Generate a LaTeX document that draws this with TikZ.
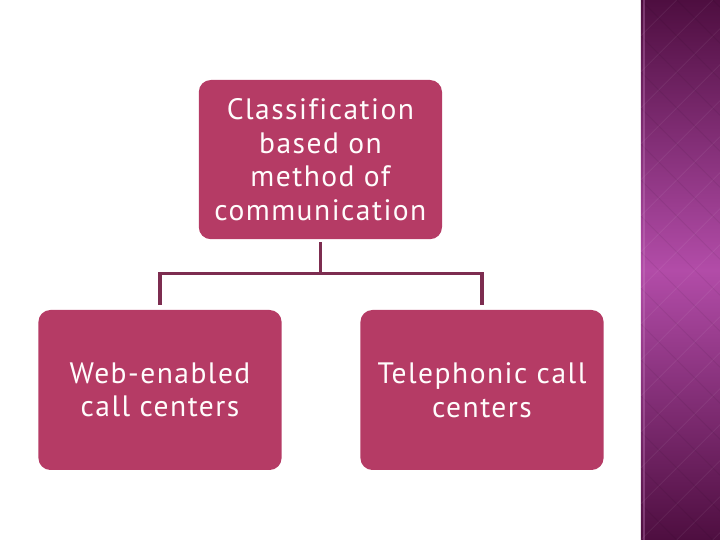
\documentclass[tikz,border=0pt]{standalone}
\usepackage{fontspec}
\setsansfont[LetterSpace=5,Ligatures=NoCommon]{PT Sans}
\usepackage{xcolor}
\usetikzlibrary{positioning,calc}
\definecolor{boxrose}{RGB}{181,59,101}
\definecolor{linkplum}{RGB}{125,45,80}
\definecolor{stripdark}{RGB}{78,14,64}
\definecolor{stripmid}{RGB}{178,76,168}

\begin{document}
\begin{tikzpicture}[
    category/.style={fill=boxrose, rounded corners=0.3cm, minimum width=6.08cm, minimum height=4cm, align=center, text=white!96!pink, font=\sffamily\fontsize{21}{23.8}\selectfont},
    link/.style={draw=linkplum, line width=2.6pt}
]
    \useasboundingbox (0,0) rectangle (18,13.5);
    % side strip
    \shade[top color=stripdark, bottom color=stripdark, middle color=stripmid] (16.02,0) rectangle (18,13.5);
    \begin{scope}
        \clip (16.02,0) rectangle (18,13.5);
        \foreach \k in {-2,...,18} {
            \draw[white, opacity=0.06, line width=0.6pt] (16.02,\k*0.9) -- ++(2,2);
            \draw[black, opacity=0.06, line width=0.6pt] (16.02,\k*0.9) -- ++(2,-2);
        }
    \end{scope}
    \draw[stripmid!70!white, opacity=0.35, line width=0.8pt] (16.1,0) -- (16.1,13.5);
    % boxes
    \node[category, minimum height=3.98cm] (method) at (8.01,9.51) {Classification\\based on\\method of\\communication};
    \node[category] (web) at (4.0,3.75) {Web-enabled\\call centers};
    \node[category] (tel) at (12.05,3.75) {Telephonic call\\centers};
    % connectors
    \coordinate (split) at ($(method.south)+(0,-0.85)$);
    \draw[link, shorten <=0.07cm, shorten >=0.12cm] (method.south) -- (split) -| (web.north);
    \draw[link, shorten >=0.12cm] (split) -| (tel.north);
\end{tikzpicture}
\end{document}
